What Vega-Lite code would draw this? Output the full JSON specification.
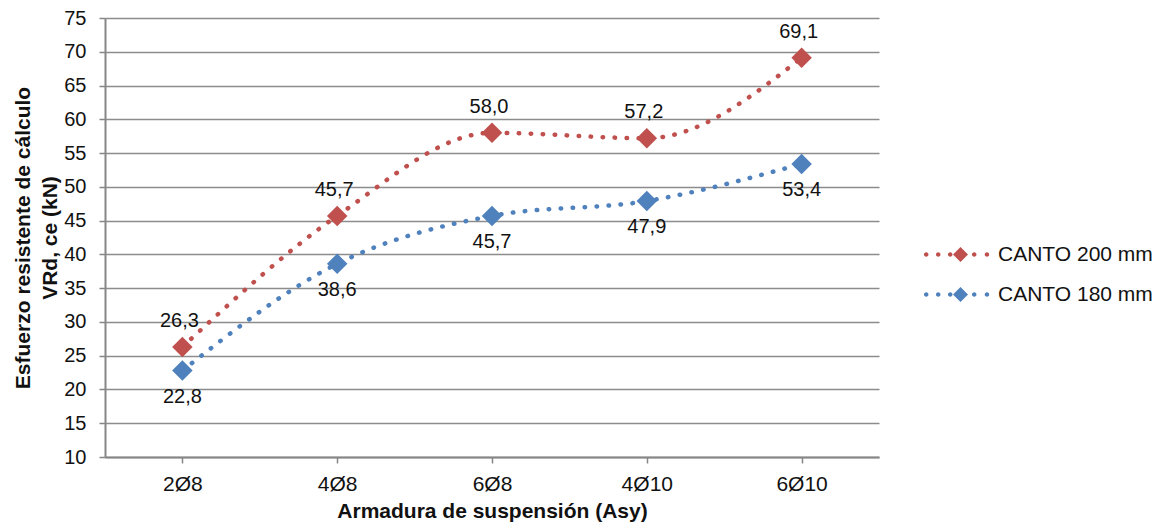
{
  "$schema": "https://vega.github.io/schema/vega-lite/v6.json",
  "autosize": {"type": "none"},
  "padding": {"left": 105, "top": 18, "right": 291, "bottom": 75},
  "width": 774,
  "height": 439,
  "background": "white",
  "data": {"values": [
    {"arm": "2Ø8", "serie": "CANTO 200 mm", "v": 26.3},
    {"arm": "4Ø8", "serie": "CANTO 200 mm", "v": 45.7},
    {"arm": "6Ø8", "serie": "CANTO 200 mm", "v": 58.0},
    {"arm": "4Ø10", "serie": "CANTO 200 mm", "v": 57.2},
    {"arm": "6Ø10", "serie": "CANTO 200 mm", "v": 69.1},
    {"arm": "2Ø8", "serie": "CANTO 180 mm", "v": 22.8},
    {"arm": "4Ø8", "serie": "CANTO 180 mm", "v": 38.6},
    {"arm": "6Ø8", "serie": "CANTO 180 mm", "v": 45.7},
    {"arm": "4Ø10", "serie": "CANTO 180 mm", "v": 47.9},
    {"arm": "6Ø10", "serie": "CANTO 180 mm", "v": 53.4}
  ]},
  "encoding": {
    "x": {
      "field": "arm", "type": "nominal", "sort": null,
      "scale": {"type": "point", "padding": 0.5},
      "axis": {
        "title": "Armadura de suspensión (Asy)",
        "labelAngle": 0, "labelPadding": 10, "tickSize": 6, "titlePadding": 6,
        "labelFontSize": 21,
        "grid": false
      }
    },
    "y": {
      "field": "v", "type": "quantitative",
      "scale": {"domain": [10, 75], "nice": false, "zero": false},
      "axis": {
        "title": ["Esfuerzo resistente de cálculo", "VRd, ce (kN)"],
        "values": [10, 15, 20, 25, 30, 35, 40, 45, 50, 55, 60, 65, 70, 75],
        "tickSize": 6, "labelPadding": 13, "titlePadding": 3, "titleLineHeight": 27,
        "labelFontSize": 20
      }
    },
    "color": {
      "field": "serie", "type": "nominal",
      "scale": {"domain": ["CANTO 200 mm", "CANTO 180 mm"], "range": ["#C0504D", "#4F81BD"]},
      "legend": {"title": null, "orient": "none", "legendX": 845, "legendY": 226}
    }
  },
  "layer": [
    {
      "mark": {"type": "line", "interpolate": "monotone", "strokeWidth": 4.5, "strokeDash": [0.5, 11.5], "strokeCap": "round"}
    },
    {
      "mark": {"type": "point", "shape": "diamond", "filled": true, "size": 420, "opacity": 1}
    },
    {
      "transform": [{"filter": "datum.serie === 'CANTO 200 mm'"}],
      "mark": {"type": "text", "dy": -26, "dx": -3, "fontSize": 20, "font": "Liberation Sans", "color": "#111111"},
      "encoding": {"text": {"field": "v", "type": "quantitative", "format": ".1f"}, "color": {"value": "#111111"}}
    },
    {
      "transform": [{"filter": "datum.serie === 'CANTO 180 mm'"}],
      "mark": {"type": "text", "dy": 26, "fontSize": 20, "font": "Liberation Sans", "color": "#111111"},
      "encoding": {"text": {"field": "v", "type": "quantitative", "format": ".1f"}, "color": {"value": "#111111"}}
    }
  ],
  "config": {
    "locale": {"number": {"decimal": ",", "thousands": ".", "grouping": [3], "currency": ["", " €"]}},
    "view": {"stroke": null},
    "font": "Liberation Sans",
    "axis": {
      "labelFont": "Liberation Sans", "labelColor": "#111111",
      "titleFont": "Liberation Sans", "titleFontSize": 21, "titleFontWeight": "bold", "titleColor": "#111111",
      "domainColor": "#868686", "domainWidth": 2,
      "tickColor": "#868686", "tickWidth": 1.5,
      "gridColor": "#8c8c8c", "gridWidth": 1.5, "gridOpacity": 1
    },
    "legend": {
      "symbolType": "M-1,0L0,-1L1,0L0,1Z M-4.87,0a0.3,0.3 0 1,0 0.6,0a0.3,0.3 0 1,0 -0.6,0Z M-3.27,0a0.3,0.3 0 1,0 0.6,0a0.3,0.3 0 1,0 -0.6,0Z M-1.67,0a0.3,0.3 0 1,0 0.6,0a0.3,0.3 0 1,0 -0.6,0Z M1.53,0a0.3,0.3 0 1,0 0.6,0a0.3,0.3 0 1,0 -0.6,0Z M3.23,0a0.3,0.3 0 1,0 0.6,0a0.3,0.3 0 1,0 -0.6,0Z",
      "symbolSize": 225,
      "symbolStrokeWidth": 0,
      "symbolOpacity": 1,
      "labelFont": "Liberation Sans", "labelFontSize": 21, "labelColor": "#111111",
      "labelOffset": 27, "rowPadding": 18, "padding": 0
    }
  }
}
